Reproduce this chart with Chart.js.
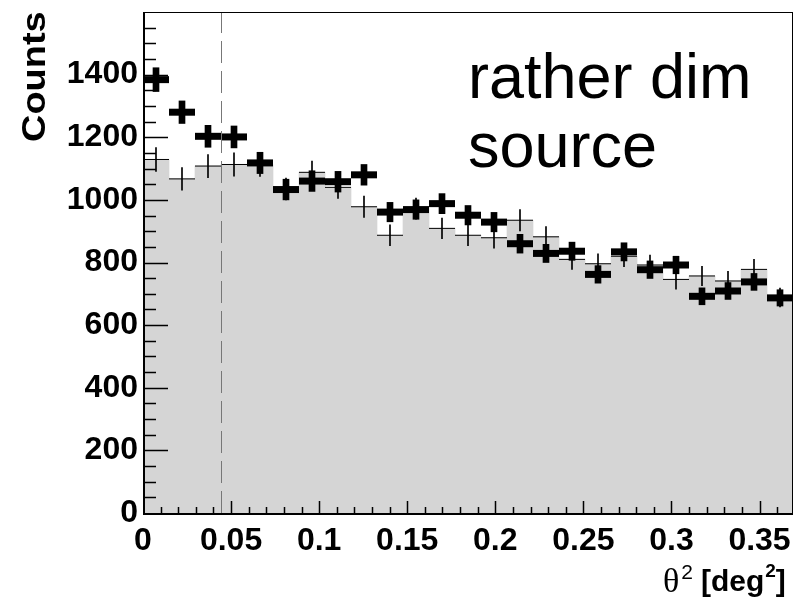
<!DOCTYPE html>
<html>
<head>
<meta charset="utf-8">
<script src="https://cdn.jsdelivr.net/npm/chart.js@4/dist/chart.umd.min.js"></script>
<style>
  body { margin: 0; background: #fff; }
  canvas { display: block; }
</style>
</head>
<body>
<canvas id="thetaChart" width="809" height="600"></canvas>
<script>
// bin centres in deg^2 (25 bins from 0 to 0.369)
const binCenters = [
  0.00738, 0.02214, 0.0369, 0.05166, 0.06642, 0.08118, 0.09594, 0.1107,
  0.12546, 0.14022, 0.15498, 0.16974, 0.1845, 0.19926, 0.21402, 0.22878,
  0.24354, 0.2583, 0.27306, 0.28782, 0.30258, 0.31734, 0.3321, 0.34686, 0.36162
];
const X_MAX = 0.369;
const CUT = 0.0445;

/* on-source counts (thick crosses) */
const onCounts = [1384, 1280, 1203, 1201, 1118, 1033, 1060, 1058, 1080, 961, 969, 988,
  951, 929, 860, 829, 836, 762, 834, 777, 792, 692, 709, 738, 687];
const onErrors = [38, 36, 35, 35, 34, 33, 33, 33, 33, 31, 31, 32,
  31, 31, 30, 29, 29, 28, 29, 28, 28, 27, 27, 27, 26];

/* background (thin crosses + grey histogram) */
const offCounts = [1129, 1067, 1108, 1113, 1112, 1035, 1088, 1040, 978, 887, 972, 909,
  887, 879, 935, 882, 810, 796, 820, 792, 746, 757, 741, 778, 688];
const offErrors = [38, 36, 37, 37, 37, 35, 36, 35, 34, 33, 34, 33,
  33, 33, 34, 33, 32, 32, 33, 32, 31, 31, 31, 32, 30];

const xTickValues = [0, 0.05, 0.1, 0.15, 0.2, 0.25, 0.3, 0.35];
const xTickLabels = ['0', '0.05', '0.1', '0.15', '0.2', '0.25', '0.3', '0.35'];
const yTickValues = [0, 200, 400, 600, 800, 1000, 1200, 1400];
const yTickLabels = ['0', '200', '400', '600', '800', '1000', '1200', '1400'];

const FONT = "'Liberation Sans', Arial, sans-serif";

const pts = (ys) => binCenters.map((x, i) => ({ x: x, y: ys[i] }));
const bars = (ys, es) => binCenters.map((x, i) => ({ x: x, y: [ys[i] - es[i], ys[i] + es[i]] }));

const data = {
  datasets: [{
    /* grey background histogram */
    type: 'bar',
    data: pts(offCounts),
    backgroundColor: '#d5d5d5',
    borderWidth: 0,
    categoryPercentage: 1,
    barPercentage: 1,
    grouped: false,
    order: 5
  }, {
    /* thin vertical error bars */
    type: 'bar',
    data: bars(offCounts, offErrors),
    backgroundColor: '#000',
    borderWidth: 0,
    barThickness: 1,
    grouped: false,
    order: 4
  }, {
    /* thin horizontal bars */
    type: 'line',
    data: pts(offCounts),
    showLine: false,
    pointStyle: 'line',
    pointRadius: 13,
    pointBorderWidth: 1,
    borderColor: '#000',
    order: 3
  }, {
    /* thick vertical error bars */
    type: 'bar',
    data: bars(onCounts, onErrors),
    backgroundColor: '#000',
    borderWidth: 0,
    barThickness: 6,
    grouped: false,
    order: 2
  }, {
    /* thick horizontal bars */
    type: 'line',
    data: pts(onCounts),
    showLine: false,
    pointStyle: 'line',
    pointRadius: 13,
    pointBorderWidth: 7,
    borderColor: '#000',
    order: 1
  }]
};

// frame, inner ROOT-style ticks, cut line and texts
const rootStyle = {
  id: 'rootStyle',
  afterDraw(chart) {
    const ctx = chart.ctx;
    const a = chart.chartArea;
    const xs = chart.scales.x;
    const ys = chart.scales.y;
    ctx.save();

    // cut line
    ctx.strokeStyle = '#777';
    ctx.lineWidth = 1;
    ctx.setLineDash([22, 8]);
    const cx = Math.round(xs.getPixelForValue(CUT)) + 0.5;
    ctx.beginPath();
    ctx.moveTo(cx, a.bottom);
    ctx.lineTo(cx, a.top);
    ctx.stroke();
    ctx.setLineDash([]);

    // ticks
    ctx.strokeStyle = '#000';
    ctx.lineWidth = 1.5;
    ctx.beginPath();
    for (let v = 50; v < 1600; v += 50) {
      const y = Math.round(ys.getPixelForValue(v)) + 0.5;
      const len = v % 200 === 0 ? 25 : 13;
      ctx.moveTo(a.left, y);
      ctx.lineTo(a.left + len, y);
    }
    for (let k = 1; k <= 36; k++) {
      const x = Math.round(xs.getPixelForValue(k / 100)) + 0.5;
      const len = k % 5 === 0 ? 12 : 6;
      ctx.moveTo(x, a.bottom);
      ctx.lineTo(x, a.bottom - len);
    }
    ctx.stroke();

    // frame
    ctx.lineWidth = 1;
    ctx.strokeRect(a.left + 0.5, a.top + 0.5, a.right - a.left - 1, a.bottom - a.top);
    ctx.lineWidth = 2;
    ctx.beginPath();
    ctx.moveTo(a.left + 1, a.top);
    ctx.lineTo(a.left + 1, a.bottom + 1);
    ctx.lineTo(a.right, a.bottom + 1);
    ctx.stroke();

    // text
    ctx.fillStyle = '#000';
    ctx.textBaseline = 'alphabetic';
    ctx.textAlign = 'left';
    ctx.font = '63px ' + FONT;
    ctx.fillText('rather dim', 468, 98);
    ctx.fillText('source', 468, 167);

    // y title
    ctx.save();
    ctx.translate(45, 142);
    ctx.rotate(-Math.PI / 2);
    ctx.scale(1.15, 1);
    ctx.font = 'bold 33px ' + FONT;
    ctx.fillText('Counts', 0, 0);
    ctx.restore();

    // x title
    let x = 663;
    ctx.font = "34px 'Liberation Serif', 'Times New Roman', serif";
    ctx.fillText('\u03b8', x, 592);
    x += ctx.measureText('\u03b8').width + 2;
    ctx.font = '21px ' + FONT;
    ctx.fillText('2', x, 579);
    x += ctx.measureText('2').width + 8;
    ctx.font = 'bold 30px ' + FONT;
    ctx.fillText('[deg', x, 591);
    x += ctx.measureText('[deg').width + 1;
    ctx.font = 'bold 19px ' + FONT;
    ctx.fillText('2', x, 577);
    x += ctx.measureText('2').width;
    ctx.font = 'bold 30px ' + FONT;
    ctx.fillText(']', x, 591);

    ctx.restore();
  }
};

const config = {
  type: 'bar',
  data: data,
  options: {
    responsive: false,
    animation: false,
    events: [],
    layout: {
      autoPadding: false,
      padding: { left: 0, top: 12, right: 16, bottom: 0 }
    },
    scales: {
      x: {
        type: 'linear',
        min: 0,
        max: X_MAX,
        offset: false,
        grid: { display: false, offset: false },
        border: { display: false },
        afterFit(scale) {
          scale.height = 87;
          scale.paddingLeft = 0;
          scale.paddingRight = 0;
        },
        afterBuildTicks(scale) {
          scale.ticks = xTickValues.map(v => ({ value: v }));
        },
        ticks: {
          autoSkip: false,
          maxRotation: 0,
          padding: 1,
          color: '#000',
          font: { family: FONT, size: 32, weight: 'bold' },
          callback: (value, index) => xTickLabels[index]
        }
      },
      y: {
        min: 0,
        max: 1600,
        grid: { display: false },
        border: { display: false },
        afterFit(scale) {
          scale.width = 143;
          scale.paddingTop = 0;
          scale.paddingBottom = 0;
        },
        afterBuildTicks(scale) {
          scale.ticks = yTickValues.map(v => ({ value: v }));
        },
        ticks: {
          autoSkip: false,
          padding: -3,
          color: '#000',
          font: { family: FONT, size: 32, weight: 'bold' },
          callback: (value, index) => yTickLabels[index]
        }
      }
    },
    plugins: {
      legend: { display: false },
      tooltip: { enabled: false }
    }
  },
  plugins: [rootStyle]
};

const thetaChart = new Chart(
  document.getElementById('thetaChart'),
  config
);
</script>
</body>
</html>
